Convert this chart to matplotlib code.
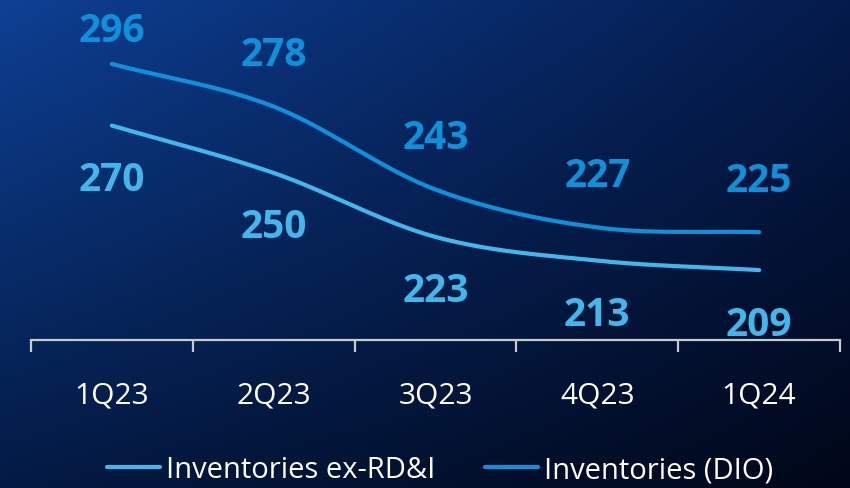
import numpy as np
import matplotlib
matplotlib.use("Agg")
import matplotlib.pyplot as plt
from matplotlib import font_manager

# Days of inventory outstanding per quarter
quarters = ["1Q23", "2Q23", "3Q23", "4Q23", "1Q24"]
dio_total = [296, 278, 243, 227, 225]
dio_ex_rdi = [270, 250, 223, 213, 209]
series_names = ["Inventories ex-RD&I", "Inventories (DIO)"]

COL_TOTAL = "#0A93DA"
COL_EX = "#3FB8EC"

available = {f.name for f in font_manager.fontManager.ttflist}
def pick(*names):
    for n in names:
        if n in available:
            return n
    return "DejaVu Sans"

FONT_BOLD = pick("Open Sans", "Noto Sans", "Lato")
FONT_TEXT = pick("Open Sans", "Noto Sans", "Lato")


def smooth(xs, ys, n=60):
    """Catmull-Rom style curve through the given points."""
    xs = np.asarray(xs, float)
    ys = np.asarray(ys, float)
    px = np.concatenate([[2 * xs[0] - xs[1]], xs, [2 * xs[-1] - xs[-2]]])
    py = np.concatenate([[2 * ys[0] - ys[1]], ys, [2 * ys[-1] - ys[-2]]])
    outx, outy = [], []
    t = np.linspace(0, 1, n)
    for i in range(1, len(px) - 2):
        def cr(a0, a1, a2, a3):
            return 0.5 * ((2 * a1) + (-a0 + a2) * t
                          + (2 * a0 - 5 * a1 + 4 * a2 - a3) * t ** 2
                          + (-a0 + 3 * a1 - 3 * a2 + a3) * t ** 3)
        outx.append(cr(px[i - 1], px[i], px[i + 1], px[i + 2]))
        outy.append(cr(py[i - 1], py[i], py[i + 1], py[i + 2]))
    return np.concatenate(outx), np.concatenate(outy)


fig = plt.figure(figsize=(8.5, 4.89), dpi=100)

# Background gradient: blue in the upper left fading to near-black
bg = fig.add_axes([0, 0, 1, 1], zorder=-10)
h, w = 489, 850
yy, xx = np.mgrid[0:1:h * 1j, 0:1:w * 1j]
tl = np.array([14, 64, 148]) / 255
tr = np.array([4, 27, 76]) / 255
bl = np.array([3, 26, 68]) / 255
br = np.array([1, 7, 24]) / 255
img = ((1 - xx)[..., None] * (1 - yy)[..., None] * tl
       + xx[..., None] * (1 - yy)[..., None] * tr
       + (1 - xx)[..., None] * yy[..., None] * bl
       + xx[..., None] * yy[..., None] * br)
bg.imshow(img, aspect="auto", extent=[0, 1, 0, 1], interpolation="bilinear")
bg.set_axis_off()

ax = fig.add_axes([31 / 850, 1 - 341 / 489, 809 / 850, 341 / 489])
ax.patch.set_alpha(0)

x = np.arange(len(quarters))
sx, sy = smooth(x, dio_total)
ax.plot(sx, sy, color=COL_TOTAL, lw=3.0, solid_capstyle="round",
        label=series_names[1], zorder=3)
sx, sy = smooth(x, dio_ex_rdi)
ax.plot(sx, sy, color=COL_EX, lw=3.0, solid_capstyle="round",
        label=series_names[0], zorder=3)

for i, v in enumerate(dio_total):
    off = 33 if i == 0 else 52
    ax.annotate(str(v), (x[i], v), xytext=(0, off), textcoords="offset pixels",
                ha="center", va="center", color=COL_TOTAL, fontsize=28,
                fontweight="bold", family=FONT_BOLD, annotation_clip=False)
for i, v in enumerate(dio_ex_rdi):
    ax.annotate(str(v), (x[i], v), xytext=(0, -54), textcoords="offset pixels",
                ha="center", va="center", color=COL_EX, fontsize=28,
                fontweight="bold", family=FONT_BOLD, annotation_clip=False)

ax.set_xlim(-0.5, len(quarters) - 0.5)
ax.set_ylim(179.5, 323.4)
for s in ["top", "right", "left"]:
    ax.spines[s].set_visible(False)
ax.spines["bottom"].set_color("#C8CACE")
ax.spines["bottom"].set_linewidth(1.6)
ax.set_yticks([])
ax.set_xticks(np.arange(-0.5, len(quarters), 1.0))
ax.set_xticklabels([])
ax.set_xticks(x, minor=True)
ax.set_xticklabels(quarters, minor=True)
ax.tick_params(axis="x", which="major", direction="out", length=8.5,
               width=1.6, color="#C8CACE")
ax.tick_params(axis="x", which="minor", length=0, pad=29,
               labelsize=21.5, labelcolor="white")
for lbl in ax.get_xticklabels(minor=True):
    lbl.set_family(FONT_TEXT)

handles, labels = ax.get_legend_handles_labels()
order = [1, 0]
leg = fig.legend([handles[i] for i in order], [labels[i] for i in order],
                 loc="center", bbox_to_anchor=(0.518, 1 - 471 / 489), ncol=2,
                 frameon=False, handlelength=1.8,
                 handletextpad=0.22, columnspacing=1.7,
                 prop={"family": FONT_TEXT, "size": 21})
for t in leg.get_texts():
    t.set_color("white")

fig.savefig("out.png", dpi=100)
